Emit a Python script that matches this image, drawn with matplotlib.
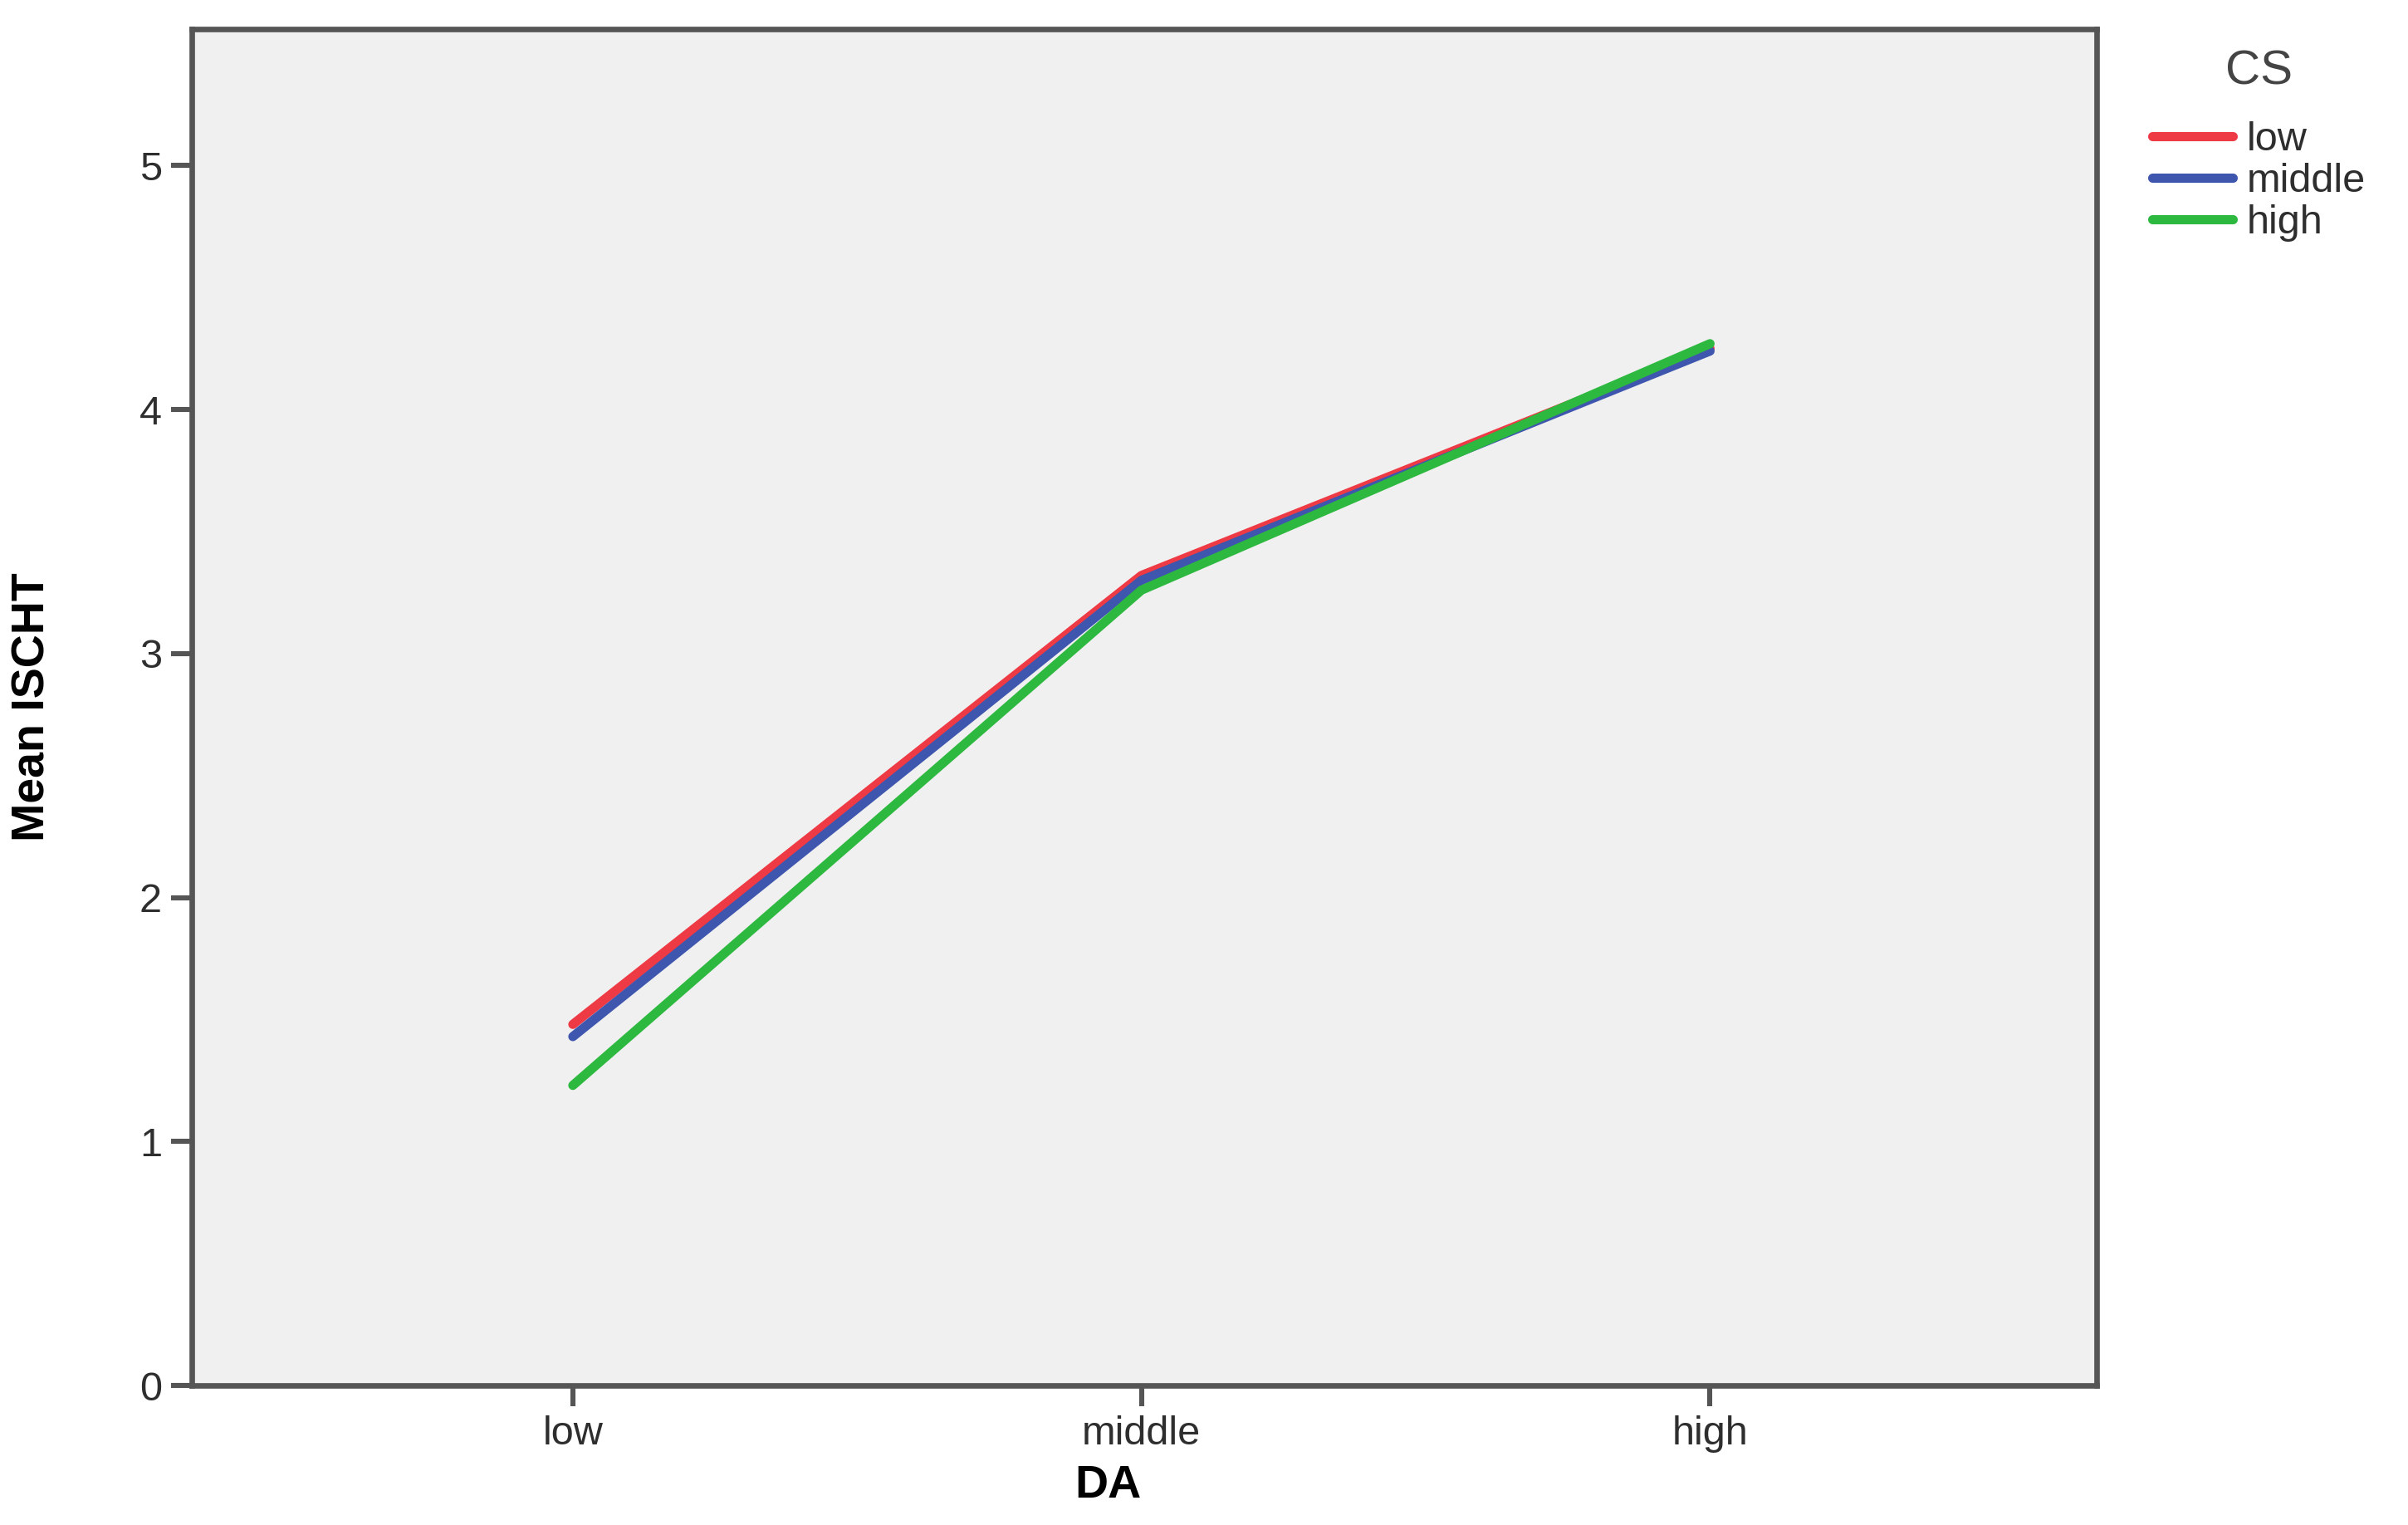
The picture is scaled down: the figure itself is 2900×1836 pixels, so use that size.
import matplotlib
matplotlib.use("Agg")
import matplotlib.pyplot as plt

# Profile plot: Mean ISCHT by DA, separate lines for CS
da_levels = ["low", "middle", "high"]
cs_levels = ["low", "middle", "high"]
mean_low_cs = [1.48, 3.32, 4.25]
mean_middle_cs = [1.43, 3.30, 4.24]
mean_high_cs = [1.23, 3.26, 4.27]
y_ticks = [0, 1, 2, 3, 4, 5]

line_colors = ["#ee3a44", "#3f56ae", "#2db83f"]

plt.rcParams["font.family"] = ["Liberation Sans", "DejaVu Sans"]

fig = plt.figure(figsize=(14.5, 9.18), dpi=200)
ax = fig.add_axes([0.0797, 0.0915, 0.791, 0.8895])
ax.set_facecolor("#f0f0f0")

x = range(len(da_levels))
for vals, name, col in zip([mean_low_cs, mean_middle_cs, mean_high_cs], cs_levels, line_colors):
    ax.plot(x, vals, color=col, lw=4.0, solid_capstyle="round", label=name)

ax.set_xlim(-0.67, 2.68)
ax.set_ylim(0, 5.56)
ax.set_xticks(list(x))
ax.set_xticklabels(da_levels)
ax.set_yticks(y_ticks)

for s in ax.spines.values():
    s.set_color("#555555")
    s.set_linewidth(2.4)
ax.tick_params(axis="both", direction="out", length=9, width=2.2, color="#555555",
               labelsize=17.5, labelcolor="#2e2e2e", pad=4)

ax.set_xlabel("DA", fontsize=20, fontweight="bold")
ax.xaxis.set_label_coords(0.481, -0.058)
ax.set_ylabel("Mean ISCHT", fontsize=20, fontweight="bold")
ax.yaxis.set_label_coords(-0.072, 0.5)

leg = ax.legend(title="CS", loc="upper left", bbox_to_anchor=(1.01, 1.012),
                frameon=False, fontsize=17.5, title_fontsize=21,
                handlelength=2.0, handletextpad=0.35, labelspacing=0.1)
leg._legend_box.sep = 12  # a bit more room under the title
leg.get_title().set_color("#444444")
for t in leg.get_texts():
    t.set_color("#2e2e2e")

fig.savefig("out.png", dpi=200, facecolor="white")
